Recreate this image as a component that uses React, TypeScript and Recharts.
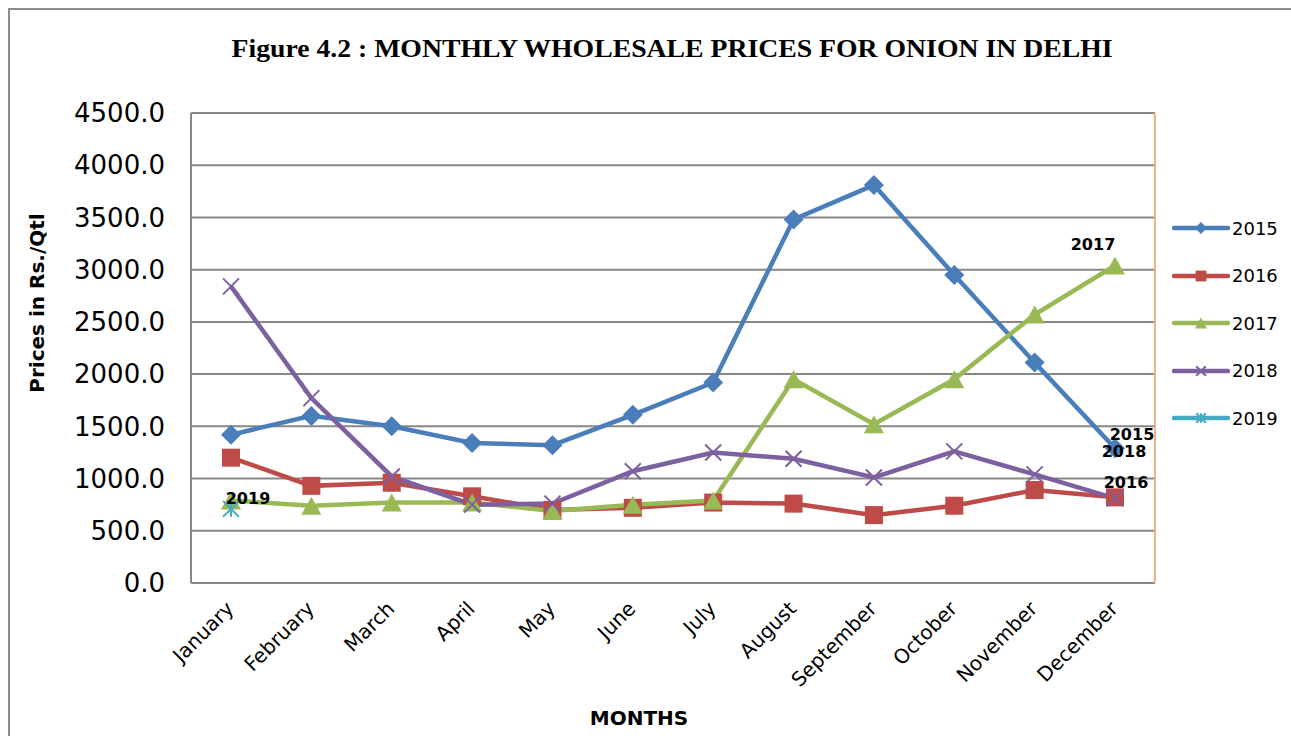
import React from 'react';
import { LineChart, Line, XAxis, YAxis, CartesianGrid, LabelList } from 'recharts';

const months = ['January', 'February', 'March', 'April', 'May', 'June', 'July', 'August', 'September', 'October', 'November', 'December'];
const prices2015 = [1420, 1600, 1500, 1340, 1320, 1610, 1920, 3480, 3810, 2950, 2110, 1290];
const prices2016 = [1200, 930, 960, 830, 700, 720, 770, 760, 650, 740, 890, 820];
const prices2017 = [790, 740, 770, 770, 690, 750, 790, 1950, 1520, 1950, 2570, 3040];
const prices2018 = [2840, 1770, 1020, 750, 760, 1070, 1250, 1190, 1010, 1260, 1040, 810];
const prices2019: (number | null)[] = [710, null, null, null, null, null, null, null, null, null, null, null];
const yTicks = [0, 500, 1000, 1500, 2000, 2500, 3000, 3500, 4000, 4500];

const FONT = '"DejaVu Sans", Verdana, sans-serif';
const SALMON = '#F4B183';
const GRID = '#878787';

type Shape = 'diamond' | 'square' | 'triangle' | 'x' | 'star';
const series: { key: string; name: string; color: string; shape: Shape; labelIndex: number; dx: number; dy: number }[] = [
  { key: 's2015', name: '2015', color: '#4A7EBB', shape: 'diamond', labelIndex: 11, dx: 17, dy: -14 },
  { key: 's2016', name: '2016', color: '#BE4B48', shape: 'square', labelIndex: 11, dx: 11, dy: -15 },
  { key: 's2017', name: '2017', color: '#98B954', shape: 'triangle', labelIndex: 11, dx: -22, dy: -21 },
  { key: 's2018', name: '2018', color: '#7D60A0', shape: 'x', labelIndex: 11, dx: 9, dy: -47 },
  { key: 's2019', name: '2019', color: '#46AAC5', shape: 'star', labelIndex: 0, dx: 17, dy: -10 },
];

const data = months.map((m, i) => ({
  month: m,
  s2015: prices2015[i],
  s2016: prices2016[i],
  s2017: prices2017[i],
  s2018: prices2018[i],
  s2019: prices2019[i],
}));

function Marker({ shape, cx, cy, color, scale = 1 }: { shape: Shape; cx: number; cy: number; color: string; scale?: number }) {
  const s = scale;
  if (shape === 'diamond') {
    const h = 10 * s;
    return <polygon points={`${cx},${cy - h} ${cx + h},${cy} ${cx},${cy + h} ${cx - h},${cy}`} fill={color} />;
  }
  if (shape === 'square') {
    const h = 9 * s;
    return <rect x={cx - h} y={cy - h} width={2 * h} height={2 * h} fill={color} />;
  }
  if (shape === 'triangle') {
    const w = 10 * s;
    const h = 9 * s;
    return <polygon points={`${cx},${cy - h} ${cx + w},${cy + h} ${cx - w},${cy + h}`} fill={color} />;
  }
  if (shape === 'x') {
    const h = 8 * s;
    return (
      <g stroke={color} strokeWidth={2}>
        <line x1={cx - h} y1={cy - h} x2={cx + h} y2={cy + h} />
        <line x1={cx - h} y1={cy + h} x2={cx + h} y2={cy - h} />
      </g>
    );
  }
  const h = 8 * s;
  return (
    <g stroke={color} strokeWidth={2}>
      <line x1={cx - h} y1={cy - h} x2={cx + h} y2={cy + h} />
      <line x1={cx - h} y1={cy + h} x2={cx + h} y2={cy - h} />
      <line x1={cx} y1={cy - h} x2={cx} y2={cy + h} />
    </g>
  );
}

const makeDot = (shape: Shape, color: string) => (props: any) => {
  const { cx, cy, index, value } = props;
  if (value == null || cx == null || cy == null) return <g key={`d${index}`} />;
  return <g key={`d${index}`}><Marker shape={shape} cx={cx} cy={cy} color={color} /></g>;
};

const makeLabel = (name: string, labelIndex: number, dx: number, dy: number) => (props: any) => {
  const { x, y, index } = props;
  if (index !== labelIndex || x == null || y == null) return null;
  return (
    <text x={x + dx} y={y + dy} textAnchor="middle" dominantBaseline="central" fontFamily={FONT} fontWeight="bold" fontSize={16} fill="#000">
      {name}
    </text>
  );
};

const XTick = (props: any) => {
  const { x, y, payload } = props;
  const ax = x - 1;
  const ay = y + 22;
  return (
    <text
      x={ax}
      y={ay}
      transform={`rotate(-45, ${ax}, ${ay})`}
      textAnchor="end"
      dominantBaseline="central"
      fontFamily={FONT}
      fontSize={20}
      fill="#000"
    >
      {payload.value}
    </text>
  );
};

// grid: the top line (domain max) is the salmon plot-area border, the others grey
const GridRow = (props: any) => {
  const { x1, x2, y1, y2, index } = props;
  const isTop = index === 0;
  return <line key={`g${index}`} x1={x1} x2={x2} y1={y1} y2={y2} stroke={isTop ? SALMON : GRID} strokeWidth={2} />;
};

export default function App() {
  return (
    <div style={{ position: 'relative', width: 1291, height: 736, overflow: 'hidden', background: '#fff' }}>
      <style>{`body{margin:0;overflow:hidden;}`}</style>
      <div style={{ position: 'absolute', left: 8, top: 8, right: -10, bottom: -10, borderLeft: '2px solid #8c8c8c', borderTop: '2px solid #8c8c8c' }} />
      <svg style={{ position: 'absolute', left: 0, top: 0 }} width={1291} height={100}>
        <text x={672} y={57} textAnchor="middle" fontFamily='"Liberation Serif", serif' fontWeight="bold" fontSize={26} textLength={881} lengthAdjust="spacingAndGlyphs" fill="#000">
          Figure 4.2 : MONTHLY WHOLESALE PRICES FOR ONION IN DELHI
        </text>
      </svg>
      <div style={{ position: 'absolute', left: 0, top: 0 }}>
        <LineChart width={1291} height={736} data={data} margin={{ top: 113, right: 135, left: 0, bottom: 53 }}>
          <CartesianGrid vertical={false} horizontal={GridRow} />
          <XAxis
            dataKey="month"
            interval={0}
            height={100}
            padding={{ left: 40, right: 40 }}
            tickLine={false}
            tickSize={0}
            tickMargin={0}
            axisLine={{ stroke: GRID, strokeWidth: 2 }}
            tick={<XTick />}
          />
          <YAxis
            width={191}
            domain={[0, 4500]}
            ticks={yTicks}
            interval={0}
            tickFormatter={(v: number) => v.toFixed(1)}
            tickLine={false}
            tickSize={6}
            tickMargin={20}
            axisLine={{ stroke: GRID, strokeWidth: 2 }}
            tick={{ fill: '#000', fontSize: 26, fontFamily: FONT }}
          />
          <YAxis
            yAxisId="right"
            orientation="right"
            width={1}
            domain={[0, 4500]}
            ticks={yTicks}
            tick={false}
            tickLine={false}
            axisLine={{ stroke: SALMON, strokeWidth: 2 }}
          />
          {series.map((s) => (
            <Line
              key={s.key}
              type="linear"
              dataKey={s.key}
              name={s.name}
              stroke={s.color}
              strokeWidth={4.5}
              dot={makeDot(s.shape, s.color)}
              activeDot={false}
              isAnimationActive={false}
              connectNulls={false}
            >
              <LabelList dataKey={s.key} content={makeLabel(s.name, s.labelIndex, s.dx, s.dy)} />
            </Line>
          ))}
        </LineChart>
      </div>
      <div
        style={{
          position: 'absolute',
          left: 37,
          top: 303,
          transform: 'translate(-50%, -50%) rotate(-90deg)',
          whiteSpace: 'nowrap',
          fontFamily: FONT,
          fontWeight: 'bold',
          fontSize: 20,
          color: '#000',
        }}
      >
        Prices in Rs./Qtl
      </div>
      <div
        style={{
          position: 'absolute',
          left: 639,
          top: 718,
          transform: 'translate(-50%, -50%)',
          whiteSpace: 'nowrap',
          fontFamily: FONT,
          fontWeight: 'bold',
          fontSize: 20,
          color: '#000',
        }}
      >
        MONTHS
      </div>
      {series.map((s, i) => (
        <div
          key={s.key}
          style={{ position: 'absolute', left: 1172, top: 228 + i * 47.5 - 12, height: 24, display: 'flex', alignItems: 'center' }}
        >
          <svg width={58} height={24}>
            <line x1={2} y1={12} x2={56} y2={12} stroke={s.color} strokeWidth={4.5} strokeLinecap="round" />
            <Marker shape={s.shape} cx={29} cy={12} color={s.color} scale={0.6} />
          </svg>
          <span style={{ fontFamily: FONT, fontSize: 18, color: '#000', marginLeft: 2 }}>{s.name}</span>
        </div>
      ))}
    </div>
  );
}
